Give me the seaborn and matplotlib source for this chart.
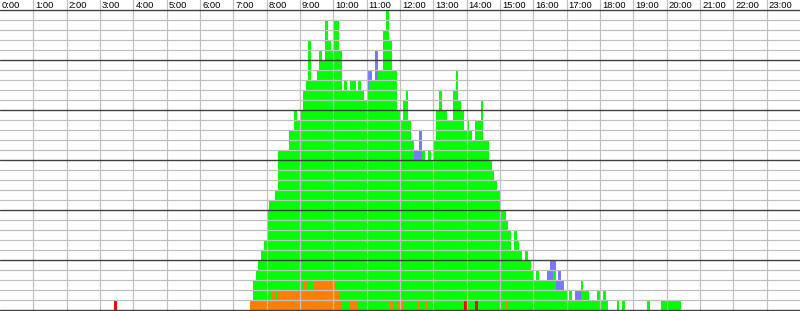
import numpy as np
import pandas as pd
import matplotlib
matplotlib.use("Agg")
import matplotlib.pyplot as plt
import seaborn as sns

# ---------------- data ----------------
bin_minutes = 5
first_bin = "07:30"
# total stacked height of each 5-minute column, starting at 07:30
column_totals = [
    1, 3, 4, 5, 6, 7, 10, 11, 11, 12,
    16, 16, 16, 16, 18, 18, 20, 19, 20, 22,
    23, 27, 23, 23, 24, 26, 25, 29, 27, 26,
    29, 29, 26, 22, 23, 22, 23, 23, 22, 23,
    22, 21, 24, 24, 23, 26, 24, 24, 28, 30,
    27, 24, 24, 20, 19, 21, 22, 19, 17, 16,
    16, 18, 16, 15, 16, 15, 17, 20, 22, 20,
    20, 19, 19, 22, 24, 21, 20, 18, 19, 18,
    17, 19, 19, 21, 17, 17, 15, 14, 13, 12,
    10, 10, 9, 8, 6, 8, 7, 6, 5, 6,
    5, 4, 3, 4, 3, 3, 3, 4, 5, 5,
    3, 4, 3, 2, 1, 2, 1, 2, 2, 3,
    2, 2, 1, 1, 1, 2, 1, 2, 1, 0,
    0, 0, 1, 0, 1, 0, 0, 0, 0, 0,
    0, 0, 0, 1, 0, 0, 0, 0, 1, 1,
    1, 1, 1, 1, 1,
]
orange_counts = {
    "07:30": 1, "07:35": 1, "07:40": 1, "07:45": 1, "07:50": 1, "07:55": 1,
    "08:00": 1, "08:05": 1, "08:10": 2, "08:15": 1, "08:20": 2, "08:25": 2,
    "08:30": 2, "08:35": 2, "08:40": 2, "08:45": 2, "08:50": 2, "08:55": 2,
    "09:00": 2, "09:05": 3, "09:10": 3, "09:15": 2, "09:20": 2, "09:25": 3,
    "09:30": 3, "09:35": 3, "09:40": 3, "09:45": 3, "09:50": 3, "09:55": 3,
    "10:00": 3, "10:05": 2, "10:10": 1, "10:30": 1, "10:35": 1, "10:40": 1,
    "11:40": 1, "11:45": 1, "11:55": 1, "12:00": 1, "12:30": 1, "12:45": 1,
    "15:10": 1,
}
blue_counts = {
    "11:00": 2, "11:05": 1, "11:15": 3, "12:25": 1, "12:30": 1, "12:35": 3,
    "16:25": 1, "16:30": 2, "16:35": 1, "16:40": 1, "16:45": 2, "16:50": 1,
    "17:15": 1, "17:20": 1,
}
red_counts = {"03:25": 1, "13:55": 1, "14:15": 1}
hour_labels = [f"{h}:00" for h in range(24)]

# ---------------- build table ----------------
def to_min(s):
    h, m = s.split(":")
    return int(h) * 60 + int(m)

starts = np.arange(0, 1440, bin_minutes)
n = len(starts)

def from_dict(d):
    a = np.zeros(n)
    for k, v in d.items():
        a[to_min(k) // bin_minutes] = v
    return a

total = np.zeros(n)
s0 = to_min(first_bin) // bin_minutes
total[s0:s0 + len(column_totals)] = column_totals
red = from_dict(red_counts)
orange = from_dict(orange_counts)
blue = from_dict(blue_counts)
total = np.maximum(total, red + orange + blue)

layers = pd.DataFrame({
    "minute": np.tile(starts + bin_minutes / 2, 4),
    "layer": np.repeat(["blue", "green", "orange", "red"], n),
    "height": np.concatenate([total, total - blue, red + orange, red]),
})
colors = {"blue": "#7878ff", "green": "#00ff00", "orange": "#ff8000", "red": "#ff0000"}

# ---------------- draw ----------------
sns.set_style("white")
plt.rcParams["font.family"] = ["Liberation Sans", "DejaVu Sans"]

fig = plt.figure(figsize=(8.0, 3.11), dpi=100)
ax = fig.add_axes([0, 0, 1, 1])
for name in ["blue", "green", "orange", "red"]:
    sub = layers[layers["layer"] == name]
    sns.histplot(data=sub, x="minute", weights="height",
                 binwidth=bin_minutes, binrange=(0, 1440),
                 color=colors[name], alpha=1, linewidth=0,
                 element="bars", fill=True, ax=ax, antialiased=False)

ax.set_xlim(0, 1440)
ax.set_ylim(-0.1, 31.0)
for k in range(1, 30):
    if k % 5:
        ax.axhline(k, color="#c0c0c0", lw=0.9, zorder=3)
for k in range(0, 31, 5):
    ax.axhline(k, color="#404040", lw=1.0, zorder=4)
for h in range(1, 24):
    ax.axvline(h * 60, color="#c0c0c0", lw=0.9, zorder=3)
for h, lab in enumerate(hour_labels):
    ax.text(h * 60 + 3.6, 30.88, lab, ha="left", va="top",
            fontsize=6.8, color="black", zorder=5)

ax.set_xticks([])
ax.set_yticks([])
ax.set_xlabel("")
ax.set_ylabel("")
for sp in ax.spines.values():
    sp.set_visible(False)

fig.savefig("out.png", dpi=100, facecolor="white")
